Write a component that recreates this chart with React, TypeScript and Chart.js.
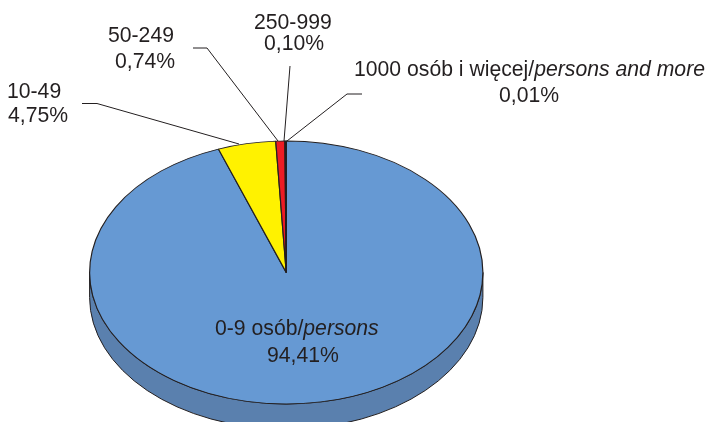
import React, { useEffect, useRef } from "react";
import { Chart, registerables } from "chart.js";

Chart.register(...registerables);

const categories = ["0-9 osób/persons", "10-49", "50-249", "250-999", "1000 osób i więcej/persons and more"];
const shares = [94.41, 4.75, 0.74, 0.1, 0.01];
const shareLabels = ["94,41%", "4,75%", "0,74%", "0,10%", "0,01%"];
const sliceColors = ["#6699D3", "#FFF200", "#ED1C24", "#5A1A20", "#231F20"];
const wallColors = ["#5A80AE", "#C9BE00", "#B5141B", "#40100F", "#111111"];

const INK = "#231F20";
const FONT_SIZE = 21.2;
const FONT = "Liberation Sans";
const CY = 272.5;
const RY = 131.5;
const DEPTH = 25;

// left edge of each text line and its baseline: [[x, y], [x, y]]
const labelLayout: number[][][] = [
  [[215, 335], [267, 362]],
  [[7, 98], [8, 122]],
  [[108, 42], [115, 68]],
  [[254, 29], [264, 50]],
  [[354, 76], [499, 102]],
];

// leader line vertices per slice
const leaders: (number[][] | null)[] = [
  null,
  [[82, 103.5], [97, 103.5], [239, 144]],
  [[193, 48], [207, 48], [278, 141]],
  [[290, 66], [284, 141]],
  [[362, 94], [347, 94], [287, 141]],
];

function drawRuns(ctx: CanvasRenderingContext2D, text: string, x: number, y: number) {
  const cut = text.indexOf("/");
  const parts = cut >= 0 ? [text.slice(0, cut + 1), text.slice(cut + 1)] : [text];
  let px = x;
  parts.forEach((part, i) => {
    ctx.font = `${i === 1 ? "italic " : ""}${FONT_SIZE}px "${FONT}"`;
    ctx.fillText(part, px, y);
    px += ctx.measureText(part).width;
  });
}

const pie3d = {
  id: "pie3d",
  beforeDatasetsDraw(chart: any) {
    const ctx: CanvasRenderingContext2D = chart.ctx;
    const arcs = chart.getDatasetMeta(0).data;
    if (!arcs.length) return;
    const { x: cx, y: cy0, outerRadius: R } = arcs[0];
    // side wall of the lower half
    arcs.forEach((arc: any, i: number) => {
      let a = arc.startAngle;
      let b = arc.endAngle;
      a = Math.max(a, 0);
      b = Math.min(b, Math.PI);
      if (b <= a) return;
      ctx.save();
      ctx.beginPath();
      ctx.ellipse(cx, CY, R, RY, 0, a, b);
      ctx.ellipse(cx, CY + DEPTH, R, RY, 0, b, a, true);
      ctx.closePath();
      ctx.fillStyle = wallColors[i];
      ctx.strokeStyle = INK;
      ctx.lineWidth = 1;
      ctx.fill();
      ctx.stroke();
      ctx.restore();
    });
    ctx.save();
    ctx.translate(cx, CY);
    ctx.scale(1, RY / R);
    ctx.translate(-cx, -cy0);
  },
  afterDatasetsDraw(chart: any) {
    const ctx: CanvasRenderingContext2D = chart.ctx;
    ctx.restore();
    ctx.save();
    ctx.strokeStyle = INK;
    ctx.lineWidth = 1;
    leaders.forEach((pts) => {
      if (!pts) return;
      ctx.beginPath();
      pts.forEach(([x, y], i) => (i ? ctx.lineTo(x, y) : ctx.moveTo(x, y)));
      ctx.stroke();
    });
    ctx.fillStyle = INK;
    ctx.textBaseline = "alphabetic";
    ctx.textAlign = "left";
    categories.forEach((name, i) => {
      const [l1, l2] = labelLayout[i];
      drawRuns(ctx, name, l1[0], l1[1]);
      drawRuns(ctx, shareLabels[i], l2[0], l2[1]);
    });
    ctx.restore();
  },
};

export default function App() {
  const ref = useRef<HTMLCanvasElement>(null);
  useEffect(() => {
    const chart = new Chart(ref.current!, {
      type: "pie",
      data: {
        labels: categories,
        datasets: [
          {
            data: shares,
            backgroundColor: sliceColors,
            borderColor: INK,
            borderWidth: 1.2,
            clip: false,
          } as any,
        ],
      },
      options: {
        responsive: false,
        animation: false,
        layout: { padding: { left: 89, right: 224.5, top: 0, bottom: 0 } },
        plugins: { legend: { display: false }, tooltip: { enabled: false }, title: { display: false } },
      },
      plugins: [pie3d],
    });
    return () => chart.destroy();
  }, []);
  return (
    <div style={{ position: "fixed", left: 0, top: 0, width: 708, height: 422, background: "#fff" }}>
      <canvas ref={ref} width={708} height={422} style={{ display: "block" }} />
    </div>
  );
}
